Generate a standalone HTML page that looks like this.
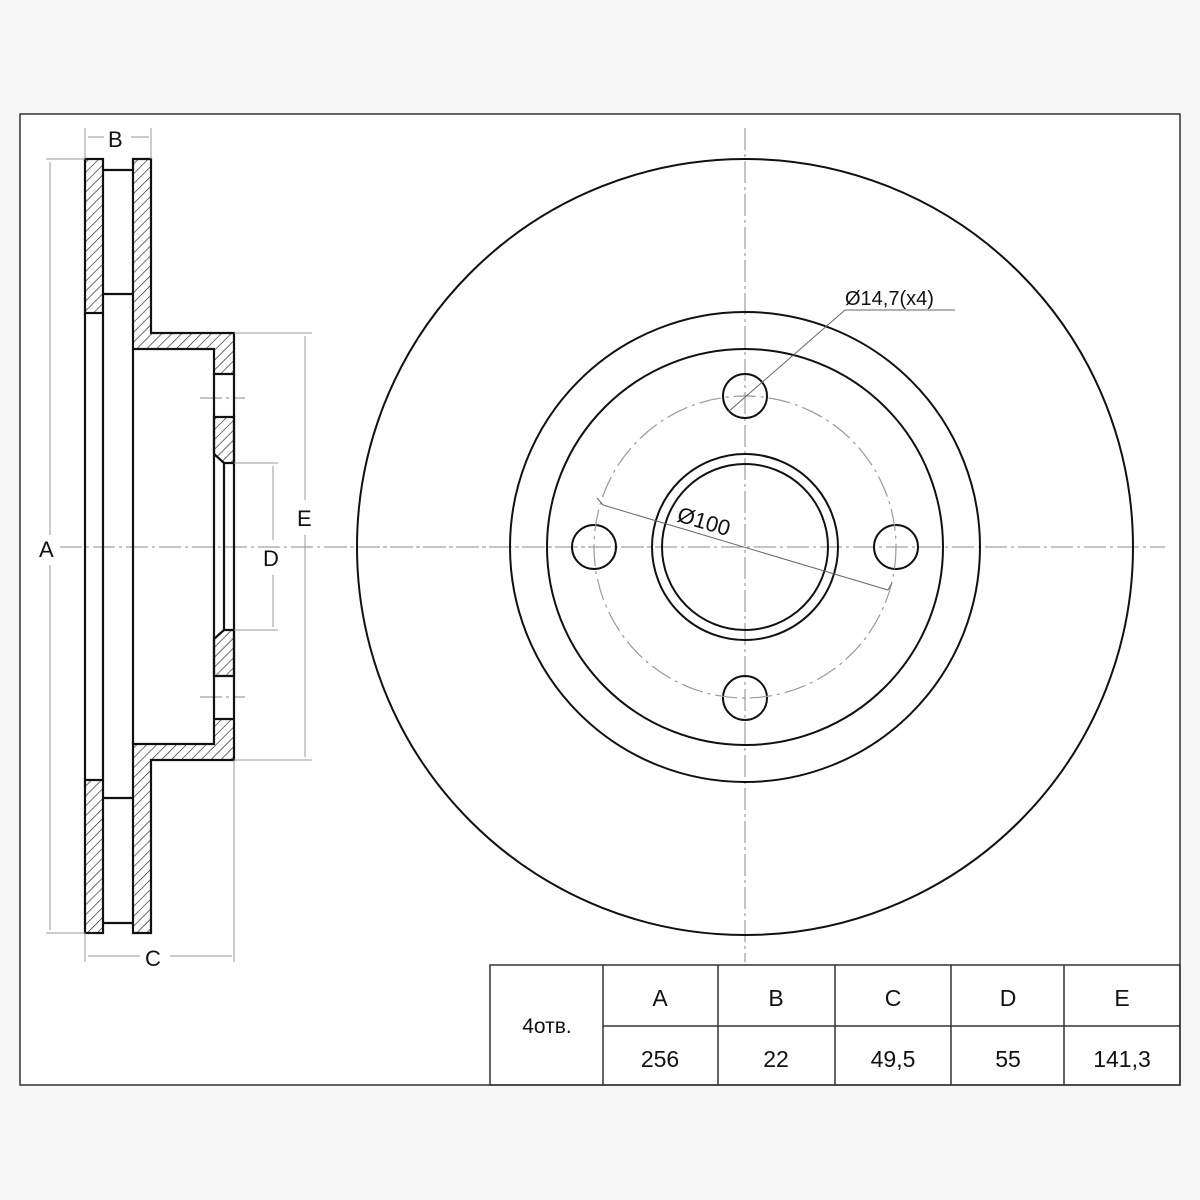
<!DOCTYPE html>
<html><head><meta charset="utf-8"><style>
html,body{margin:0;padding:0;background:#f6f6f6;}
svg{display:block;}
text{font-family:"Liberation Sans",Arial,sans-serif;fill:#111;}
</style></head><body>
<svg width="1200" height="1200" viewBox="0 0 1200 1200" xmlns="http://www.w3.org/2000/svg">
<defs>
<pattern id="h" patternUnits="userSpaceOnUse" width="7" height="7" patternTransform="rotate(45)">
<line x1="0" y1="0" x2="0" y2="7" stroke="#222" stroke-width="1.3"/>
</pattern>
</defs>
<rect x="20" y="114" width="1160" height="971" fill="#fff" stroke="#333" stroke-width="1.5"/>

<g stroke="#888" stroke-width="1" stroke-dasharray="22,4,3,4" fill="none">
<line x1="60" y1="547" x2="650" y2="547"/>
<line x1="325" y1="547" x2="1165" y2="547"/>
<line x1="745" y1="128" x2="745" y2="962"/>
<line x1="200" y1="398" x2="245" y2="398"/>
<line x1="200" y1="697" x2="245" y2="697"/>
</g>

<g stroke="#111" stroke-width="2.2" fill="url(#h)">
<rect x="85" y="159" width="18" height="154"/>
<rect x="85" y="780" width="18" height="153"/>
<polygon points="133,159 151,159 151,333 234,333 234,374 214,374 214,349 133,349"/>
<polygon points="133,933 151,933 151,760 234,760 234,719 214,719 214,744 133,744"/>
<polygon points="214,417 234,417 234,463 224,463 214,454"/>
<polygon points="214,676 234,676 234,630 224,630 214,639"/>
</g>
<g stroke="#111" stroke-width="2.2" fill="none">
<line x1="85" y1="313" x2="85" y2="780"/>
<line x1="103" y1="313" x2="103" y2="780"/>
<line x1="133" y1="349" x2="133" y2="744"/>
<line x1="214" y1="374" x2="214" y2="719"/>
<line x1="234" y1="374" x2="234" y2="719"/>
<line x1="224" y1="463" x2="224" y2="630"/>
<line x1="103" y1="170" x2="133" y2="170"/>
<line x1="103" y1="294" x2="133" y2="294"/>
<line x1="103" y1="798" x2="133" y2="798"/>
<line x1="103" y1="923" x2="133" y2="923"/>
</g>

<g stroke="#999" stroke-width="1" fill="none">
<line x1="46" y1="159" x2="85" y2="159"/>
<line x1="46" y1="933" x2="85" y2="933"/>
<line x1="50" y1="162" x2="50" y2="535"/>
<line x1="50" y1="565" x2="50" y2="930"/>
<line x1="85" y1="128" x2="85" y2="159"/>
<line x1="151" y1="128" x2="151" y2="159"/>
<line x1="88" y1="137" x2="104" y2="137"/>
<line x1="131" y1="137" x2="149" y2="137"/>
<line x1="85" y1="933" x2="85" y2="962"/>
<line x1="234" y1="760" x2="234" y2="962"/>
<line x1="88" y1="956" x2="140" y2="956"/>
<line x1="170" y1="956" x2="232" y2="956"/>
<line x1="234" y1="333" x2="312" y2="333"/>
<line x1="234" y1="760" x2="312" y2="760"/>
<line x1="305" y1="336" x2="305" y2="500"/>
<line x1="305" y1="535" x2="305" y2="757"/>
<line x1="234" y1="463" x2="278" y2="463"/>
<line x1="234" y1="630" x2="278" y2="630"/>
<line x1="273" y1="466" x2="273" y2="540"/>
<line x1="273" y1="575" x2="273" y2="627"/>
</g>
<g font-size="22">
<text x="39" y="557">A</text>
<text x="108" y="147">B</text>
<text x="145" y="966">C</text>
<text x="263" y="566">D</text>
<text x="297" y="526">E</text>
</g>

<g stroke="#111" stroke-width="2" fill="none">
<circle cx="745" cy="547" r="388"/>
<circle cx="745" cy="547" r="235"/>
<circle cx="745" cy="547" r="198"/>
<circle cx="745" cy="547" r="93"/>
<circle cx="745" cy="547" r="83"/>
<circle cx="745" cy="396" r="22"/>
<circle cx="745" cy="698" r="22"/>
<circle cx="594" cy="547" r="22"/>
<circle cx="896" cy="547" r="22"/>
</g>
<circle cx="745" cy="547" r="151" stroke="#999" stroke-width="1.2" fill="none" stroke-dasharray="22,5,3,5"/>
<g stroke="#666" stroke-width="1" fill="none">
<line x1="728" y1="412" x2="845" y2="310"/>
<line x1="845" y1="310" x2="955" y2="310"/>
<line x1="603" y1="505" x2="888" y2="590"/>
<line x1="597" y1="498" x2="603" y2="505"/>
<line x1="888" y1="590" x2="892" y2="583"/>
</g>
<text x="845" y="305" font-size="20">Ø14,7(x4)</text>
<text x="0" y="0" font-size="22" transform="translate(676,521) rotate(16.5)">Ø100</text>

<g stroke="#333" stroke-width="1.5" fill="none">
<rect x="490" y="965" width="690" height="120"/>
<line x1="603" y1="1026" x2="1180" y2="1026"/>
<line x1="603" y1="965" x2="603" y2="1085"/>
<line x1="718" y1="965" x2="718" y2="1085"/>
<line x1="835" y1="965" x2="835" y2="1085"/>
<line x1="951" y1="965" x2="951" y2="1085"/>
<line x1="1064" y1="965" x2="1064" y2="1085"/>
</g>
<g font-size="23" text-anchor="middle">
<text x="547" y="1033" font-size="21">4отв.</text>
<text x="660" y="1006">A</text>
<text x="776" y="1006">B</text>
<text x="893" y="1006">C</text>
<text x="1008" y="1006">D</text>
<text x="1122" y="1006">E</text>
<text x="660" y="1067">256</text>
<text x="776" y="1067">22</text>
<text x="893" y="1067">49,5</text>
<text x="1008" y="1067">55</text>
<text x="1122" y="1067">141,3</text>
</g>
</svg>
</body></html>
